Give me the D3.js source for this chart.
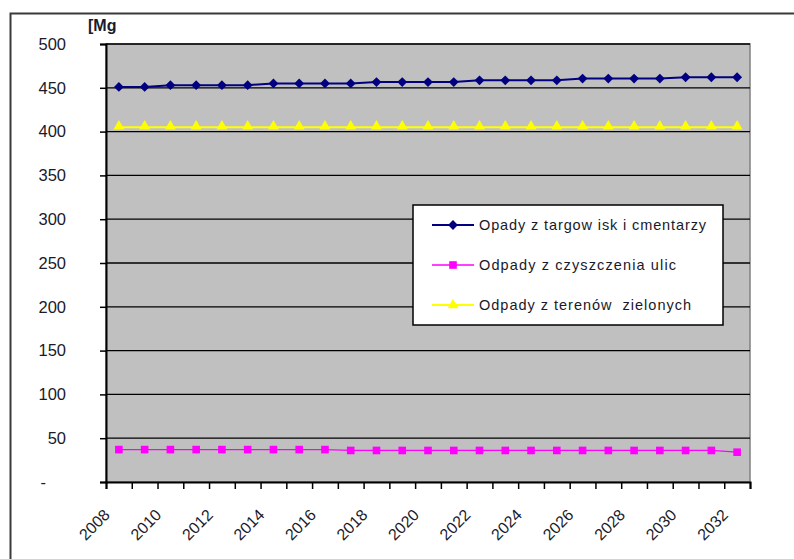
<!DOCTYPE html>
<html lang="pl">
<head>
    <meta charset="UTF-8">
    <script src="https://cdn.jsdelivr.net/npm/d3@7"></script>
    <title>Odpady</title>
    <style>
        body { margin: 0; background: #fff; }
        svg text { font-family: "Liberation Sans", Arial, sans-serif; }
    </style>
</head>
<body>
<svg width="794" height="559"></svg>
<script>
    // dane
    var years = d3.range(2008, 2033);
    var targowiska = [451, 451, 453, 453, 453, 453, 455, 455, 455, 455, 456.5, 456.5, 456.5, 456.5,
        458.5, 458.5, 458.5, 458.5, 460.5, 460.5, 460.5, 460.5, 462, 462, 462];
    var ulice = [37, 37, 37, 37, 37, 37, 37, 37, 37, 36, 36, 36, 36, 36, 36, 36, 36, 36, 36, 36,
        36, 36, 36, 36, 34];
    var zielone = [405, 405, 405, 405, 405, 405, 405, 405, 405, 405, 405, 405, 405, 405, 405, 405,
        405, 405, 405, 405, 405, 405, 405, 405, 405];
    var yTicks = [0, 50, 100, 150, 200, 250, 300, 350, 400, 450, 500];
    var seriesNames = ["Opady z targow isk i cmentarzy", "Odpady z czyszczenia ulic", "Odpady z terenów  zielonych"];

    var svg = d3.select("svg");
    var plot = {left: 106, right: 750, top: 44, bottom: 482};

    // ramka calego wykresu
    svg.append("rect")
        .attr("x", 10.5).attr("y", 13.5)
        .attr("width", 820).attr("height", 600)
        .attr("fill", "none")
        .attr("stroke", "#3a3a3a")
        .attr("stroke-width", 2);

    var x = d3.scaleLinear().domain([0, years.length]).range([plot.left, plot.right]);
    var y = d3.scaleLinear().domain([0, 500]).range([plot.bottom, plot.top]);

    svg.append("rect")
        .attr("x", plot.left).attr("y", plot.top)
        .attr("width", plot.right - plot.left).attr("height", plot.bottom - plot.top)
        .attr("fill", "#c0c0c0")
        .attr("stroke", "#808080")
        .attr("stroke-width", 1.5);

    // linie siatki
    svg.append("g").selectAll("line")
        .data(yTicks.filter(function (d) { return d > 0; }))
        .enter().append("line")
        .attr("x1", plot.left).attr("x2", plot.right)
        .attr("y1", function (d) { return y(d); })
        .attr("y2", function (d) { return y(d); })
        .attr("stroke", "#000")
        .attr("stroke-width", 1.3);

    // os Y
    var yAxis = svg.append("g")
        .attr("transform", "translate(" + plot.left + ",0)")
        .call(d3.axisLeft(y).tickValues(yTicks).tickSize(6).tickPadding(34)
            .tickFormat(function (d) { return d === 0 ? "-" : d; }));
    yAxis.select(".domain").attr("stroke", "#000").attr("stroke-width", 2);
    yAxis.selectAll(".tick line").attr("stroke", "#000").attr("stroke-width", 1.5);
    yAxis.selectAll("text")
        .attr("font-size", "16.5px")
        .attr("fill", "#1a1a2a")
        .attr("dx", function (d) { return d === 0 ? -20 : 0; });

    // os X - kreski na granicach kategorii
    var xAxis = svg.append("g")
        .attr("transform", "translate(0," + plot.bottom + ")")
        .call(d3.axisBottom(x).tickValues(d3.range(years.length + 1)).tickSize(7).tickFormat(""));
    xAxis.select(".domain").attr("stroke", "#000").attr("stroke-width", 2);
    xAxis.selectAll(".tick line").attr("stroke", "#000").attr("stroke-width", 1.5);

    svg.append("g").selectAll("text")
        .data(years.filter(function (d, i) { return i % 2 === 0; }))
        .enter().append("text")
        .attr("transform", function (d) {
            return "translate(" + (x(years.indexOf(d) + 0.5) - 8) + "," + 516 + ") rotate(-45)";
        })
        .attr("text-anchor", "end")
        .attr("font-size", "16px")
        .attr("fill", "#1a1a2a")
        .text(function (d) { return d; });

    svg.append("text")
        .attr("x", 88).attr("y", 31)
        .attr("font-size", "16px")
        .attr("font-weight", "bold")
        .attr("fill", "#1a1a2a")
        .text("[Mg");

    var cx = function (d, i) { return x(i + 0.5); };
    var line = function (data) {
        return d3.line().x(function (d, i) { return x(i + 0.5); }).y(function (d) { return y(d); })(data);
    };

    // serie
    svg.append("path").attr("d", line(zielone))
        .attr("fill", "none").attr("stroke", "#ffff00").attr("stroke-width", 2);
    svg.append("path").attr("d", line(targowiska))
        .attr("fill", "none").attr("stroke", "#000080").attr("stroke-width", 2);
    svg.append("path").attr("d", line(ulice))
        .attr("fill", "none").attr("stroke", "#ff00ff").attr("stroke-width", 1.2);

    var diamond = d3.symbol().type(d3.symbolDiamond2).size(62);
    var square = d3.symbol().type(d3.symbolSquare).size(58);
    var triangle = d3.symbol().type(d3.symbolTriangle).size(52);

    svg.append("g").selectAll("path").data(targowiska).enter().append("path")
        .attr("d", diamond)
        .attr("transform", function (d, i) { return "translate(" + cx(d, i) + "," + y(d) + ")"; })
        .attr("fill", "#000080");
    svg.append("g").selectAll("path").data(ulice).enter().append("path")
        .attr("d", square)
        .attr("transform", function (d, i) { return "translate(" + cx(d, i) + "," + y(d) + ")"; })
        .attr("fill", "#ff00ff");
    svg.append("g").selectAll("path").data(zielone).enter().append("path")
        .attr("d", triangle)
        .attr("transform", function (d, i) { return "translate(" + cx(d, i) + "," + (y(d) - 1) + ")"; })
        .attr("fill", "#ffff00");

    // legenda
    var legend = svg.append("g").attr("transform", "translate(413,205)");
    legend.append("rect")
        .attr("width", 310).attr("height", 120)
        .attr("fill", "#fff").attr("stroke", "#000").attr("stroke-width", 1.5);
    var colors = ["#000080", "#ff00ff", "#ffff00"];
    var symbols = [diamond, square, triangle];
    var textWidths = [227, 197, 212];
    var rows = legend.selectAll("g.row").data(seriesNames).enter().append("g")
        .attr("class", "row")
        .attr("transform", function (d, i) { return "translate(0," + (20 + i * 40) + ")"; });
    rows.append("line")
        .attr("x1", 19).attr("x2", 61)
        .attr("stroke", function (d, i) { return colors[i]; })
        .attr("stroke-width", function (d, i) { return i === 1 ? 1.5 : 2; });
    rows.append("path")
        .attr("d", function (d, i) { return symbols[i](); })
        .attr("transform", "translate(40,0)")
        .attr("fill", function (d, i) { return colors[i]; });
    rows.append("text")
        .attr("x", 66).attr("y", 5)
        .attr("font-size", "14.5px")
        .attr("fill", "#1a1a2a")
        .attr("textLength", function (d, i) { return textWidths[i]; })
        .attr("lengthAdjust", "spacing")
        .style("white-space", "pre")
        .text(function (d) { return d; });
</script>
</body>
</html>
